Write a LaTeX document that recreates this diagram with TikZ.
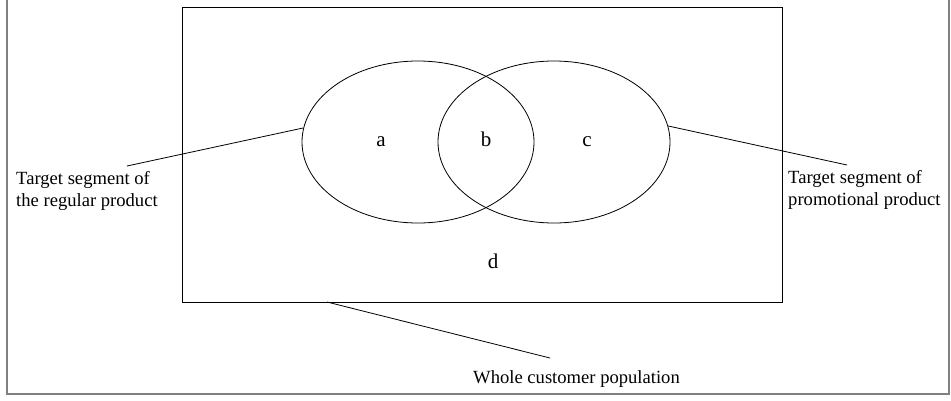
\documentclass[tikz,border=0pt]{standalone}
\usepackage{fontspec}
\setmainfont{Liberation Serif}
\usetikzlibrary{shapes.geometric}
\begin{document}
\begin{tikzpicture}[x=1pt,y=-1pt,
        set/.style={draw, ellipse, line width=0.8pt, minimum width=232pt, minimum height=162pt, inner sep=0pt},
        part/.style={inner sep=0pt, font=\fontsize{21}{25}\selectfont},
        lbl/.style={inner sep=0pt, align=left, font=\fontsize{18.6}{22}\selectfont},
        lead/.style={line width=0.8pt}]
            \useasboundingbox (0,0) rectangle (951,400);
            \draw[gray, line width=1.6pt] (7,-5) -- (7,394) -- (949,394) -- (949,-5);

            \node[draw, line width=0.9pt, minimum width=600pt, minimum height=295pt, inner sep=0pt] (U) at (482,154.5) {};
            \node[set] (R) at (418,142) {};
            \node[set] (P) at (554,142) {};

            \node[part, anchor=base] (a) at (381,146.7) {a};
            \node[part, anchor=base] (b) at (486,146.7) {b};
            \node[part, anchor=base] (c) at (587,146.7) {c};
            \node[part, anchor=base] (d) at (493,268.3) {d};

            \node[lbl, anchor=north west] (Rt) at (16,171) {Target segment of\\the regular product};
            \node[lbl, anchor=north west] (Pt) at (788,170) {Target segment of\\promotional product};
            \node[lbl, anchor=base west] (Ut) at (473,383) {Whole customer population};

            \coordinate (Rp) at (127,166); \coordinate (Pp) at (847,165);
            \coordinate (Us) at (327,302); \coordinate (Up) at (550,358);
            \draw[lead] (R.173) to (Rp); \draw[lead] (P.8) to (Pp);
            \draw[lead] (Us) to (Up);
        \end{tikzpicture}
\end{document}
